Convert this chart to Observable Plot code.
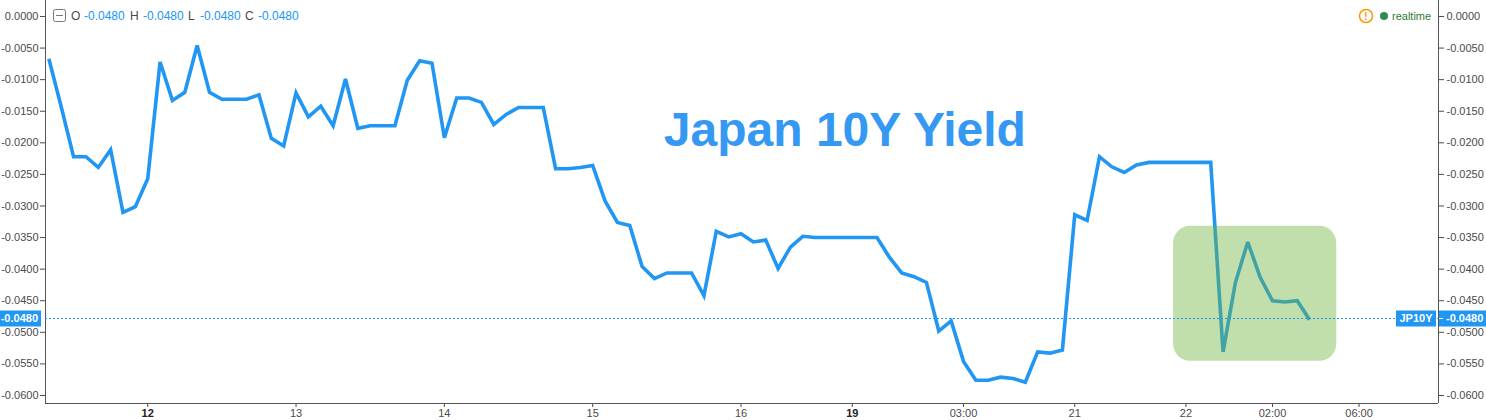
<!DOCTYPE html>
<html><head><meta charset="utf-8">
<script src="https://cdn.jsdelivr.net/npm/d3@7"></script>
<script src="https://cdn.jsdelivr.net/npm/@observablehq/plot@0.6"></script>
<style>
body{margin:0;background:#fff;font-family:"Liberation Sans",Arial,sans-serif;}
#chart{position:relative;width:1486px;height:420px;}
</style></head><body><div id="chart"></div>
<script>
// Japan 10Y yield, one value per bar (bar index 0..102)
const yieldValues = [
  -0.0067, -0.0143, -0.0222, -0.0222, -0.0239, -0.0211, -0.0310, -0.0301, -0.0257, -0.0072,
  -0.0133, -0.0120, -0.0046, -0.0120, -0.0131, -0.0131, -0.0131, -0.0124, -0.0193, -0.0205,
  -0.0121, -0.0159, -0.0142, -0.0173, -0.0099, -0.0177, -0.0173, -0.0173, -0.0173, -0.0101,
  -0.0070, -0.0074, -0.0192, -0.0129, -0.0129, -0.0136, -0.0171, -0.0155, -0.0144, -0.0144,
  -0.0144, -0.0241, -0.0241, -0.0239, -0.0236, -0.0292, -0.0326, -0.0331, -0.0396, -0.0415,
  -0.0406, -0.0406, -0.0406, -0.0442, -0.0340, -0.0349, -0.0344, -0.0357, -0.0354, -0.0399,
  -0.0365, -0.0348, -0.0350, -0.0350, -0.0350, -0.0350, -0.0350, -0.0350, -0.0381, -0.0406,
  -0.0412, -0.0421, -0.0498, -0.0482, -0.0546, -0.0576, -0.0576, -0.0571, -0.0573, -0.0579,
  -0.0531, -0.0533, -0.0528, -0.0314, -0.0323, -0.0222, -0.0238, -0.0247, -0.0235, -0.0231,
  -0.0231, -0.0231, -0.0231, -0.0231, -0.0231, -0.0531, -0.0421, -0.0357, -0.0413, -0.0450,
  -0.0452, -0.0450, -0.0480
];
const barIndex = yieldValues.map((_, i) => i);

const xTickBars   = [8, 20, 32, 44, 56, 65, 74, 83, 92, 99, 106];
const xTickLabels = ["12", "13", "14", "15", "16", "19", "03:00", "21", "22", "02:00", "06:00"];
const boldTickLabels = ["12", "19"];

const yTicks = [0, -0.005, -0.01, -0.015, -0.02, -0.025, -0.03, -0.035, -0.04, -0.045, -0.05, -0.055, -0.06];

const xDomain = [-0.27, 112.43];
const yDomain = [-0.06127, 0.00253];

const symbol = "JP10Y";
const lastPrice = -0.048;
const ohlc = [["O", -0.048], ["H", -0.048], ["L", -0.048], ["C", -0.048]];

const highlightBox = [{x1: 91.0, x2: 104.2, y1: -0.0546, y2: -0.0332}];
const titleText = "Japan 10Y Yield";
const titlePos = [{bar: 64.4, value: -0.0180}];

const data = barIndex.map(i => ({bar: i, yield: yieldValues[i]}));
const fmt = d => (d === 0 ? "0.0000" : d.toFixed(4));
const labelFor = b => xTickLabels[xTickBars.indexOf(b)];
const normalTicks = xTickBars.filter(b => !boldTickLabels.includes(labelFor(b)));
const boldTicks = xTickBars.filter(b => boldTickLabels.includes(labelFor(b)));

const BLUE = "#2196f3";
const AXIS = "#4a4a4a";

const plot = Plot.plot({
  width: 1486, height: 420,
  marginLeft: 45, marginRight: 48, marginTop: 0, marginBottom: 17,
  style: {fontFamily: "'Liberation Sans', Arial, sans-serif", fontSize: "11px", color: AXIS, background: "#fff", overflow: "visible"},
  x: {type: "linear", domain: xDomain},
  y: {type: "linear", domain: yDomain},
  marks: [
    Plot.line(data, {x: "bar", y: "yield", stroke: BLUE, strokeWidth: 3.6, strokeLinejoin: "miter", strokeMiterlimit: 3, strokeLinecap: "butt"}),
    Plot.rect(highlightBox, {x1: "x1", x2: "x2", y1: "y1", y2: "y2", fill: "rgb(111,180,62)", fillOpacity: 0.43, rx: 17}),
    Plot.text(titlePos, {x: "bar", y: "value", text: () => titleText, fontSize: 48, fontWeight: "bold", fill: "#3598f3", textAnchor: "middle"}),
    Plot.axisY(yTicks, {anchor: "left", tickSize: 5, tickPadding: 2, tickFormat: fmt, label: null}),
    Plot.axisY(yTicks, {anchor: "right", tickSize: 5, tickPadding: 3, tickFormat: fmt, label: null}),
    Plot.axisX(normalTicks, {anchor: "bottom", tickSize: 4, tickPadding: 2, tickFormat: labelFor, label: null}),
    Plot.axisX(boldTicks, {anchor: "bottom", tickSize: 4, tickPadding: 2, tickFormat: labelFor, label: null, fontWeight: "bold", fill: "#222"}),
    Plot.ruleX([xDomain[0], xDomain[1]], {stroke: "#555", strokeWidth: 1}),
    Plot.ruleY([yDomain[0]], {stroke: "#555", strokeWidth: 1})
  ]
});

document.getElementById("chart").appendChild(plot);

const svg = d3.select(plot);
const xs = plot.scale("x");
const ysc = plot.scale("y");
const yp = Math.round(ysc.apply(lastPrice)) - 0.5;
const xl = xs.apply(xDomain[0]);
const xr = xs.apply(xDomain[1]);

const g = svg.append("g").attr("font-family", "'Liberation Sans', Arial, sans-serif").attr("text-anchor", "start");
// last-price dotted line (drawn on the y scale position)
g.append("line").attr("x1", xl).attr("x2", xr).attr("y1", yp).attr("y2", yp)
  .attr("stroke", BLUE).attr("stroke-width", 1).attr("stroke-dasharray", "2,2");
// price label left
g.append("rect").attr("x", 0).attr("y", yp - 8).attr("width", xl - 4).attr("height", 16).attr("fill", BLUE);
g.append("text").attr("x", xl - 7).attr("y", yp).attr("dy", "0.35em").attr("text-anchor", "end")
  .attr("fill", "#fff").attr("font-weight", "bold").attr("font-size", 11).text(fmt(lastPrice));
// symbol + price label right
g.append("rect").attr("x", xr - 42).attr("y", yp - 8).attr("width", 40).attr("height", 16).attr("fill", BLUE);
g.append("text").attr("x", xr - 22).attr("y", yp).attr("dy", "0.35em").attr("text-anchor", "middle")
  .attr("fill", "#fff").attr("font-weight", "bold").attr("font-size", 11).text(symbol);
g.append("rect").attr("x", xr + 1).attr("y", yp - 8).attr("width", 1486 - xr - 1).attr("height", 16).attr("fill", BLUE);
g.append("line").attr("x1", xr + 1).attr("x2", xr + 5).attr("y1", yp).attr("y2", yp).attr("stroke", "#fff");
g.append("text").attr("x", xr + 8).attr("y", yp).attr("dy", "0.35em").attr("text-anchor", "start")
  .attr("fill", "#fff").attr("font-weight", "bold").attr("font-size", 11).text(fmt(lastPrice));

// OHLC legend
const lg = g.append("g").attr("font-size", 12).attr("text-anchor", "start");
lg.append("rect").attr("x", 53.5).attr("y", 9.5).attr("width", 12).attr("height", 12).attr("rx", 2)
  .attr("fill", "#fff").attr("stroke", "#777");
lg.append("line").attr("x1", 56).attr("x2", 63).attr("y1", 15.5).attr("y2", 15.5).attr("stroke", "#777");
const legendX = [[71, 84], [130, 143], [188, 200], [245, 258]];
ohlc.forEach(([k, v], i) => {
  lg.append("text").attr("x", legendX[i][0]).attr("y", 16).attr("dy", "0.35em").attr("text-anchor", "start").attr("fill", "#4a4a4a").text(k);
  lg.append("text").attr("x", legendX[i][1]).attr("y", 16).attr("dy", "0.35em").attr("text-anchor", "start").attr("fill", BLUE).text(fmt(v));
});

// realtime indicator
const rt = g.append("g");
rt.append("circle").attr("cx", 1366).attr("cy", 16).attr("r", 6.5).attr("fill", "#fff").attr("stroke", "#ff9800").attr("stroke-width", 1.5);
rt.append("text").attr("x", 1366).attr("y", 16).attr("dy", "0.36em").attr("text-anchor", "middle")
  .attr("fill", "#ff9800").attr("font-size", 10).attr("font-weight", "bold").text("!");
rt.append("circle").attr("cx", 1384).attr("cy", 16).attr("r", 4).attr("fill", "#2e8b57");
rt.append("text").attr("x", 1392).attr("y", 16).attr("dy", "0.35em").attr("text-anchor", "start").attr("fill", "#2e7d32").attr("font-size", 11).text("realtime");
</script></body></html>
